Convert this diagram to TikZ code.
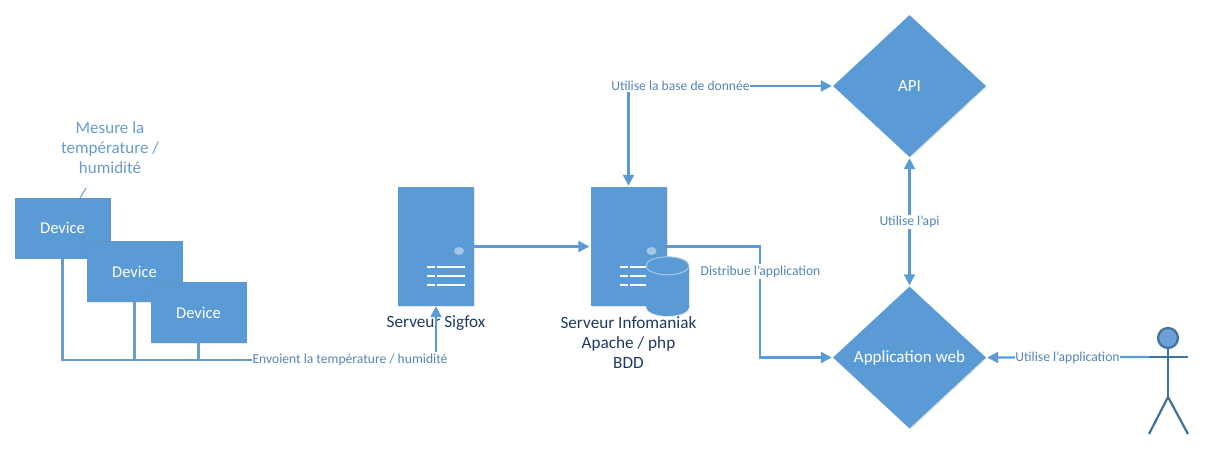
\documentclass[tikz,border=0pt]{standalone}
\usepackage{fontspec}
\setmainfont{Carlito}
\usetikzlibrary{arrows.meta,shapes.geometric,shadows,calc}
\definecolor{bluefill}{HTML}{5B9BD5}
\definecolor{bluelabel}{HTML}{5585B5}
\definecolor{bluetext}{HTML}{6A9BCB}
\definecolor{darktext}{HTML}{1F3A60}
\definecolor{actorline}{HTML}{41719C}
\definecolor{actorfill}{HTML}{6A9FD8}
\definecolor{busline}{HTML}{6A9BCB}
\tikzset{
  softshadow/.style={drop shadow={shadow xshift=1pt,shadow yshift=-1pt,opacity=.2,fill=gray}},
  devicebox/.style={rectangle,fill=bluefill,draw=bluefill!85!gray,line width=.5pt,minimum width=95pt,minimum height=60pt,inner sep=0pt,text=white,font=\fontsize{16.5}{20}\selectfont,softshadow},
  serverbox/.style={rectangle,fill=bluefill,minimum width=76pt,minimum height=119pt,inner sep=0pt,softshadow},
  decision/.style={diamond,fill=bluefill,minimum width=153pt,minimum height=142pt,inner sep=0pt,aspect=1.08,text=white,font=\fontsize{17}{20}\selectfont,softshadow},
  flowlabel/.style={fill=white,inner sep=0pt,inner ysep=1.5pt,text=bluelabel,font=\fontsize{13.6}{16}\selectfont},
  servertext/.style={align=center,text=darktext,inner sep=0pt,font=\fontsize{17.2}{20}\selectfont},
  flow/.style={draw=bluefill,line width=2.2pt},
  tip/.style={flow,-{Triangle[length=11pt,width=11pt]},shorten >=1pt},
  bothtip/.style={flow,{Triangle[length=11pt,width=11pt]}-{Triangle[length=11pt,width=11pt]},shorten >=1pt,shorten <=1pt},
  bus/.style={draw=busline,line width=2.2pt},
  limb/.style={draw=actorline,line width=2.2pt},
  detail/.style={draw=white,line width=2.4pt},
  led/.style={ellipse,fill=bluefill!55!white,minimum width=10pt,minimum height=8pt,inner sep=0pt}
}
\newcommand{\serverdetail}[1]{%
  \node[led] at ($(#1.center)+(23,4.5)$) {};
  \foreach \dy in {20.5,29.5,38.5} {
    \draw[detail] ($(#1.center)+(-9,\dy)$) -- ($(#1.center)+(-1,\dy)$);
    \draw[detail] ($(#1.center)+(1,\dy)$) -- ($(#1.center)+(29,\dy)$);
  }}
\begin{document}
\begin{tikzpicture}[x=1pt,y=-1pt]
\useasboundingbox (0,0) rectangle (1205,448);

% devices
\coordinate (stubA) at (80,198);
\coordinate (stubB) at (86,188);
\draw[draw=bluetext,line width=1pt] (stubA) -- (stubB);
\node[devicebox] (dev1) at (62.5,228) {Device};
\node[devicebox] (dev2) at (134.5,271.5) {Device};
\node[devicebox] (dev3) at (198.5,312.5) {Device};
\node[align=center,text=bluetext,inner sep=0pt,font=\fontsize{17}{20}\selectfont] (measure) at (110,148) {Mesure la\\température /\\humidité};

% servers
\node[serverbox] (srv1) at (436,246.5) {};
\node[serverbox] (srv2) at (628.5,246.5) {};
\serverdetail{srv1}
\serverdetail{srv2}
\node[servertext] (srv1t) at (436,323) {Serveur Sigfox};
\node[servertext] (srv2t) at (628.5,343) {Serveur Infomaniak\\Apache / php\\BDD};

% decisions
\node[decision] (api) at (909.5,86) {API};
\node[decision] (app) at (909.5,357.5) {Application web};

% actor
\node[circle,fill=actorfill,draw=actorline,line width=2.2pt,minimum size=20pt,inner sep=0pt] (head) at (1168,338) {};
\coordinate (armL) at (1149,357);
\coordinate (armR) at (1188,357);
\coordinate (hip) at (1168,397);
\coordinate (legL) at (1149,434);
\coordinate (legR) at (1188,434);

% labels
\node[flowlabel] (envoi) at (350,360) {Envoient la température / humidité};
\node[flowlabel] (base) at (680.5,86) {Utilise la base de donnée};
\node[flowlabel] (uapi) at (909.5,222) {Utilise l’api};
\coordinate (elbow) at (760,300);

% connectors
\draw[bus] (dev1.south) |- (envoi.west);
\draw[bus] (dev2.south) -- (dev2.south |- envoi.west);
\draw[bus] (dev3.south) -- (dev3.south |- envoi.west);
\draw[tip,shorten >=0pt] (srv1.south |- envoi.north) -- (srv1.south);
\draw[tip] (srv1.east) -- (srv2.west);
\draw[tip] (srv2.east) -| (elbow) |- (app.west);
\draw[tip] (base.east) -- (api.west);
\draw[tip] (srv2.north |- base.south) -- (srv2.north);
\draw[bothtip] (api.south) -- (app.north);
\draw[tip] (armL) -- (app.east);
\node[flowlabel] at (uapi) {Utilise l’api};

% database
\fill[gray,opacity=.2] (647,267) rectangle (690,308);
\fill[gray,opacity=.2] (668.5,308) ellipse [x radius=21.5,y radius=9];
\fill[bluefill] (667.5,307) ellipse [x radius=21.5,y radius=9];
\node[rectangle,fill=bluefill,minimum width=43pt,minimum height=41pt,inner sep=0pt] (db) at (667.5,286.5) {};
\draw[draw=white!45!bluefill,fill=bluefill,line width=1pt] (db.north) ellipse [x radius=21.5,y radius=9];

% text over connectors
\node[flowlabel] (dist) at (760.5,271.5) {Distribue l’application};
\node[flowlabel] (uappl) at (1067.5,357.5) {Utilise l’application};

% actor limbs
\draw[limb] (head.south) -- (hip);
\draw[limb] (armL) -- (armR);
\draw[limb] (hip) -- (legL);
\draw[limb] (hip) -- (legR);
\end{tikzpicture}
\end{document}
